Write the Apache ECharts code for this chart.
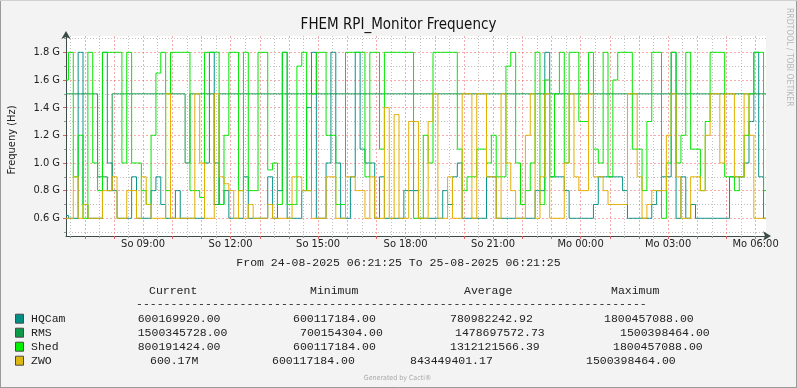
<!DOCTYPE html>
<html><head><meta charset="utf-8">
<script src="https://cdn.jsdelivr.net/npm/echarts@6/dist/echarts.min.js"></script>
<style>html,body{margin:0;padding:0;background:#F3F3F3;}#c{width:797px;height:388px;}</style>
</head><body><div id="c"></div>
<script>
// ---- DATA ----
const START_MIN = 381 + 25 / 60;   // 24-08-2025 06:21:25, minutes after So 00:00
const END_MIN = START_MIN + 1440;  // 25-08-2025 06:21:25
const STEP_MIN = 10;
const seriesNames = ['HQCam', 'RMS', 'Shed', 'ZWO'];
const hqcam = [0.62,0.6,0.6,1.8,0.7,0.6,0.6,0.6,1.8,1.0,0.8,0.6,0.6,0.6,0.9,0.6,0.6,0.6,0.8,0.9,0.7,0.6,0.6,0.8,0.6,0.6,0.6,0.6,0.6,1.0,
  1.8,1.0,0.7,0.8,0.6,0.6,0.6,0.9,0.6,0.6,0.6,0.6,0.9,0.6,0.8,1.8,0.6,0.6,0.6,0.8,1.4,1.8,0.6,0.6,1.0,1.8,1.0,0.6,0.6,0.9,
  1.8,1.1,1.0,1.0,0.6,0.9,0.6,0.6,0.6,0.6,0.8,0.8,0.8,0.6,0.6,0.6,0.6,0.6,0.8,0.7,0.9,1.0,0.6,0.6,0.6,0.6,0.6,0.9,0.9,0.6,
  0.6,0.6,0.6,0.6,0.6,0.6,0.6,0.8,0.8,1.8,0.9,0.9,0.9,0.8,0.6,0.6,0.6,0.6,0.6,0.7,0.9,0.9,0.9,0.9,0.9,0.8,0.6,0.6,0.6,0.6,
  0.6,0.7,0.8,0.9,0.9,1.8,0.6,0.9,0.6,0.7,0.6,0.6,0.6,0.6,0.6,0.6,0.6,0.9,0.9,0.9,1.0,1.3,1.8,0.9,0.6];
const rms = [1.5,1.5,1.5,1.5,1.5,1.5,1.5,0.9,0.9,0.8,1.5,1.5,1.5,1.5,1.5,1.5,1.5,1.5,1.5,1.5,1.5,1.5,1.5,1.5,1.5,1.0,1.5,1.5,1.5,1.5,
  1.5,0.7,1.5,1.5,1.5,1.5,1.5,1.5,1.5,1.5,1.5,1.5,1.5,1.5,1.5,1.5,1.5,1.5,1.5,1.5,1.5,1.5,1.5,1.5,1.5,1.5,1.5,1.5,1.5,1.5,
  1.5,1.5,1.5,1.5,1.5,1.5,1.5,1.5,1.5,1.5,1.5,1.5,1.5,1.5,1.5,1.5,1.5,1.5,1.5,1.5,1.5,1.5,1.5,1.5,1.5,1.5,1.5,1.5,1.5,1.5,
  1.5,1.5,1.5,1.5,1.5,1.5,1.5,1.5,1.5,1.5,1.5,1.5,1.5,1.5,1.5,1.5,1.5,1.5,1.5,1.5,1.5,1.5,1.5,1.5,1.5,1.5,1.5,1.5,1.5,1.5,
  1.5,1.5,1.5,1.5,1.5,1.5,1.5,1.5,1.5,1.5,1.5,1.5,1.5,1.5,1.5,1.5,1.5,1.5,1.5,1.5,1.5,1.5,1.5,1.5,1.5];
const shed = [1.6,1.8,0.9,1.2,0.6,1.8,1.0,0.8,1.8,1.8,1.8,1.8,1.0,1.8,1.0,1.0,0.8,0.7,1.2,1.65,1.8,0.8,1.8,1.8,1.8,1.8,0.8,0.8,0.75,1.8,
  1.8,1.8,0.7,1.2,1.8,1.8,0.8,1.8,0.8,0.8,1.8,1.8,0.95,1.0,0.7,1.8,0.7,0.7,1.7,1.8,0.8,1.5,1.8,1.8,1.2,1.2,0.7,0.7,1.8,1.8,
  1.8,1.8,0.9,1.8,1.8,1.1,1.8,1.8,1.8,1.8,1.8,1.8,0.6,0.6,1.2,1.0,1.8,1.8,1.8,1.8,1.8,1.1,0.8,0.9,0.9,1.1,1.1,1.0,1.2,0.9,
  0.9,1.7,1.8,1.0,0.7,0.8,1.0,1.8,0.7,1.6,0.9,1.5,1.8,1.0,1.8,1.8,1.3,1.3,1.8,1.1,1.0,1.8,0.9,1.6,1.8,1.8,1.8,1.1,1.1,0.8,
  1.3,1.8,1.8,0.6,1.0,1.8,1.0,1.2,1.8,1.1,1.1,0.8,1.3,1.8,1.8,1.8,0.9,0.9,0.8,0.9,1.2,1.5,1.8,1.8,0.8];
const zwo = [0.6,0.6,0.9,0.6,0.7,0.6,0.6,0.6,0.8,0.8,0.9,0.6,0.6,0.8,0.8,0.6,0.9,0.7,0.6,0.6,0.6,1.5,0.6,0.6,0.6,0.6,0.6,1.5,1.0,0.6,
  0.6,1.5,0.9,0.85,0.8,0.6,0.8,0.6,0.7,0.6,0.6,0.6,0.7,0.6,0.6,0.6,0.6,0.9,0.9,0.8,0.8,0.6,0.6,0.6,0.9,0.9,0.6,0.6,0.9,0.9,
  0.8,0.8,0.6,0.9,0.6,0.6,1.4,0.6,1.35,0.6,0.6,1.3,1.3,0.6,0.6,1.3,1.5,0.6,0.6,0.9,0.6,0.6,1.5,1.5,0.6,1.5,1.5,0.9,0.9,0.6,
  1.5,1.0,0.8,0.6,0.6,1.2,1.5,0.6,0.9,1.5,0.6,0.6,0.6,1.0,1.5,0.9,0.8,0.8,1.5,0.9,0.9,0.8,0.7,0.7,0.7,0.7,1.5,1.5,0.9,0.6,
  0.7,0.8,0.8,0.8,1.2,1.5,0.9,0.6,0.6,0.9,0.9,0.8,1.2,1.5,1.5,1.0,1.5,1.5,0.9,0.9,1.5,1.2,0.6,0.6,0.6];
const xLabelTicks = [540, 720, 900, 1080, 1260, 1440, 1620, 1800];
const xLabelTexts = ['So 09:00','So 12:00','So 15:00','So 18:00','So 21:00','Mo 00:00','Mo 03:00','Mo 06:00'];
const xMajorTicks = [420,480,540,600,660,720,780,840,900,960,1020,1080,1140,1200,1260,1320,1380,1440,1500,1560,1620,1680,1740,1800];
const xMinorTicks = [390,450,510,570,630,690,750,810,870,930,990,1050,1110,1170,1230,1290,1350,1410,1470,1530,1590,1650,1710,1770];
const yMajorTicks = [0.6, 0.8, 1.0, 1.2, 1.4, 1.6, 1.8];
const yLabelTexts = ['0.6 G','0.8 G','1.0 G','1.2 G','1.4 G','1.6 G','1.8 G'];
const yMinorTicks = [0.5, 0.7, 0.9, 1.1, 1.3, 1.5, 1.7, 1.9];
const statCurrent = ['600169920.00', '1500345728.00', '800191424.00', '600.17M'];
const statMinimum = ['600117184.00', '700154304.00', '600117184.00', '600117184.00'];
const statAverage = ['780982242.92', '1478697572.73', '1312121566.39', '843449401.17'];
const statMaximum = ['1800457088.00', '1500398464.00', '1800457088.00', '1500398464.00'];
const titleText = 'FHEM RPI_Monitor Frequency';
const yAxisTitle = 'Frequeny (Hz)';
const rangeText = 'From 24-08-2025 06:21:25 To 25-08-2025 06:21:25';

// ---- STYLE / LAYOUT ----
const Y_MIN = 0.472, Y_MAX = 1.918;
const colors = ['#0A9488', '#129A4C', '#00E800', '#E2B000'];
const boxColors = ['#008F85', '#0A9A48', '#00F000', '#DDB810'];
const SANS = "'DejaVu Sans Condensed','Liberation Sans Narrow','Liberation Sans',sans-serif";
const MONO = "'Liberation Mono','DejaVu Sans Mono',monospace";
const AXIS_COLOR = '#3b4b47';
const MAJOR = 'rgba(235,70,70,0.45)';
const MINOR = 'rgba(120,120,120,0.45)';

const seriesValues = [hqcam, rms, shed, zwo];
const xs = hqcam.map((_, i) => START_MIN + i * STEP_MIN);

const chart = echarts.init(document.getElementById('c'), null, {renderer: 'canvas', width: 797, height: 388});

const gridBox = {left: 66, right: 31, top: 36, bottom: 152};

const graphics = [];
graphics.push({type: 'line', shape: {x1: 0.5, y1: 0, x2: 0.5, y2: 388}, style: {stroke: '#9a9a9a', lineWidth: 1}, silent: true});
graphics.push({type: 'line', shape: {x1: 0, y1: 387.5, x2: 797, y2: 387.5}, style: {stroke: '#9a9a9a', lineWidth: 1}, silent: true});
graphics.push({type: 'line', shape: {x1: 796.5, y1: 0, x2: 796.5, y2: 388}, style: {stroke: '#9a9a9a', lineWidth: 1}, silent: true});
graphics.push({type: 'line', shape: {x1: 0, y1: 0.5, x2: 797, y2: 0.5}, style: {stroke: '#d0d0d0', lineWidth: 1}, silent: true});
graphics.push({type: 'text', x: 12, y: 140, rotation: Math.PI / 2,
  style: {text: yAxisTitle, font: '11px ' + SANS, fill: '#222', align: 'center', verticalAlign: 'middle'}});
graphics.push({type: 'text', x: 398.5, y: 262.5,
  style: {text: rangeText, font: '11.5px ' + MONO, fill: '#222', align: 'center', verticalAlign: 'middle'}});
const headers = [['Current', 149], ['Minimum', 310], ['Average', 464], ['Maximum', 611]];
headers.forEach(([t, x]) => graphics.push({type: 'text', x, y: 290.7,
  style: {text: t, font: '11.5px ' + MONO, fill: '#222', verticalAlign: 'middle'}}));
graphics.push({type: 'text', x: 136, y: 303.5,
  style: {text: '-'.repeat(74), font: '11.5px ' + MONO, fill: '#222', verticalAlign: 'middle'}});
const cellX = [
  [137.7, 293, 450, 604],
  [137.7, 300, 455, 620],
  [137.7, 293, 450, 613],
  [150, 272, 410, 586]
];
seriesNames.forEach((name, k) => {
  const y = 318.7 + k * 14;
  graphics.push({type: 'rect', shape: {x: 15.5, y: y - 4.5, width: 8, height: 9},
    style: {fill: boxColors[k], stroke: '#4a4a4a', lineWidth: 1}});
  graphics.push({type: 'text', x: 31, y, style: {text: name, font: '11.5px ' + MONO, fill: '#222', verticalAlign: 'middle'}});
  [statCurrent, statMinimum, statAverage, statMaximum].forEach((arr, c) => {
    graphics.push({type: 'text', x: cellX[k][c], y, style: {text: arr[k], font: '11.5px ' + MONO, fill: '#222', verticalAlign: 'middle'}});
  });
});
graphics.push({type: 'text', x: 397.5, y: 378.5,
  style: {text: 'Generated by Cacti®', font: '7px ' + SANS, fill: '#a8a8a8', align: 'center', verticalAlign: 'middle'}});
graphics.push({type: 'text', x: 789, y: 8, rotation: -Math.PI / 2,
  style: {text: 'RRDTOOL / TOBI OETIKER', font: '8.5px ' + SANS, fill: '#b8b8b8', align: 'left', verticalAlign: 'middle'}});

const option = {
  backgroundColor: '#F3F3F3',
  animation: false,
  title: {text: titleText, left: 'center', top: 13,
    textStyle: {fontFamily: SANS, fontSize: 15, fontWeight: 'normal', color: '#111'}},
  grid: Object.assign({show: true, backgroundColor: '#ffffff', borderWidth: 0, containLabel: false, outerBoundsMode: 'none'}, gridBox),
  xAxis: [
    {type: 'value', min: START_MIN, max: END_MIN, position: 'bottom',
      axisLine: {show: false},
      axisLabel: {show: false},
      axisTick: {show: true, customValues: xMinorTicks, length: 2, lineStyle: {color: '#999'}},
      splitLine: {show: true, lineStyle: {color: MINOR, type: [1, 2], width: 1}}},
    {type: 'value', min: START_MIN, max: END_MIN, position: 'bottom',
      axisLine: {show: false},
      axisLabel: {show: false},
      axisTick: {show: true, customValues: xMajorTicks, length: 3, lineStyle: {color: '#e06060'}},
      splitLine: {show: true, lineStyle: {color: MAJOR, type: [2, 2], width: 1}}},
    {type: 'value', min: START_MIN, max: END_MIN, position: 'bottom',
      axisLine: {show: true, onZero: false, lineStyle: {color: AXIS_COLOR, width: 1},
        symbol: ['none', 'arrow'], symbolSize: [7, 8], symbolOffset: [0, 5]},
      axisTick: {show: false, customValues: xLabelTicks},
      splitLine: {show: false},
      axisLabel: {show: true, customValues: xLabelTicks, margin: 3, color: '#222', fontFamily: SANS, fontSize: 11,
        formatter: v => xLabelTexts[xLabelTicks.indexOf(Math.round(v))] || ''}}
  ],
  yAxis: [
    {type: 'value', min: Y_MIN, max: Y_MAX, position: 'left',
      axisLine: {show: false},
      axisLabel: {show: false},
      axisTick: {show: true, customValues: yMinorTicks, length: 2, lineStyle: {color: '#999'}},
      splitLine: {show: true, lineStyle: {color: MINOR, type: [1, 2], width: 1}}},
    {type: 'value', min: Y_MIN, max: Y_MAX, position: 'left',
      axisLine: {show: true, onZero: false, lineStyle: {color: AXIS_COLOR, width: 1},
        symbol: ['none', 'arrow'], symbolSize: [7, 8], symbolOffset: [0, 5]},
      axisTick: {show: true, customValues: yMajorTicks, length: 3, lineStyle: {color: '#e06060'}},
      splitLine: {show: true, lineStyle: {color: MAJOR, type: [2, 2], width: 1}},
      axisLabel: {show: true, customValues: yMajorTicks, margin: 6, color: '#222', fontFamily: SANS, fontSize: 11,
        formatter: v => yLabelTexts[yMajorTicks.findIndex(t => Math.abs(t - v) < 1e-6)] || ''}}
  ],
  series: seriesNames.map((name, k) => ({
    name, type: 'line', xAxisIndex: 2, yAxisIndex: 1,
    data: seriesValues[k].map((v, i) => [xs[i], v]),
    symbol: 'none', showSymbol: false, step: 'middle', clip: true,
    lineStyle: {width: 1, color: colors[k]}, itemStyle: {color: colors[k]},
    emphasis: {disabled: true}, z: 3 + k
  })),
  graphic: graphics
};
chart.setOption(option);
</script></body></html>
